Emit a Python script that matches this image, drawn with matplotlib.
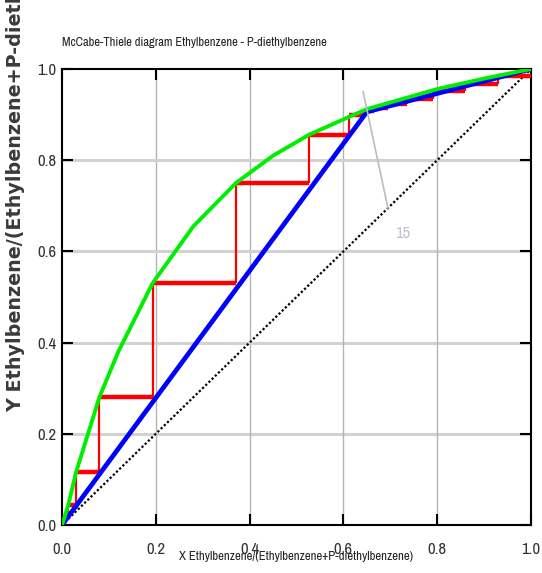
import matplotlib
matplotlib.use("Agg")
import matplotlib.pyplot as plt
from matplotlib import font_manager

# equilibrium curve (green)
eq_x = [0.0, 0.0134, 0.03, 0.0796, 0.12, 0.193, 0.28, 0.371, 0.45, 0.527, 0.612, 0.65, 0.80, 0.90, 1.0]
eq_y = [0.0, 0.044, 0.1155, 0.28, 0.38, 0.53, 0.655, 0.75, 0.81, 0.856, 0.895, 0.912, 0.956, 0.979, 1.0]

# operating lines (blue)
op_x = [0.0, 0.65, 1.0]
op_y = [0.0, 0.906, 1.0]

# stages: corner on the equilibrium curve
stage_x = [0.93, 0.86, 0.79, 0.735, 0.695, 0.665, 0.645, 0.612, 0.527, 0.371, 0.193, 0.0796, 0.03, 0.0134, 0.004]
stage_y = [0.984, 0.968, 0.951, 0.935, 0.923, 0.914, 0.908, 0.899, 0.856, 0.75, 0.53, 0.28, 0.1155, 0.044, 0.018]
n_stages = "15"

ticks = [0.0, 0.2, 0.4, 0.6, 0.8, 1.0]
tick_labels = ["0.0", "0.2", "0.4", "0.6", "0.8", "1.0"]

# a condensed face if one is around, else plain Arial-like
names = sorted({f.name for f in font_manager.fontManager.ttflist})
cond = [n for n in names if "Narrow" in n or "Condensed" in n]
if cond:
    narrow = [cond[0], "Liberation Sans", "DejaVu Sans"]
    sz_title, sz_xlab = 9.0, 9.2
else:
    narrow = ["Liberation Sans", "DejaVu Sans"]
    sz_title, sz_xlab = 7.6, 7.8

fig = plt.figure(figsize=(5.42, 5.73), dpi=100)
ax = fig.add_axes([62 / 542, 48 / 573, 469 / 542, 456 / 573])
ax.set_xlim(0, 1)
ax.set_ylim(0, 1)

# grid
for t in ticks[1:-1]:
    ax.axvline(t, color="#b4b4b4", lw=1.0, zorder=0)
    ax.axhline(t, color="#d2d2d2", lw=2.2, zorder=0)

# diagonal
ax.plot([0, 1], [0, 1], color="black", lw=1.6, ls=(0, (1, 1)), zorder=2)

# stage staircase
prev_x = 1.0
for i in range(len(stage_x)):
    ax.plot([prev_x, stage_x[i]], [stage_y[i], stage_y[i]], color="red", lw=3.2,
            solid_capstyle="butt", zorder=3)
    y_next = stage_y[i + 1] if i + 1 < len(stage_y) else 0.0
    ax.plot([stage_x[i], stage_x[i]], [stage_y[i], y_next], color="red", lw=1.6,
            solid_capstyle="butt", zorder=3)
    prev_x = stage_x[i]

ax.plot(op_x, op_y, color="#0000ff", lw=3.4, zorder=4)
ax.plot(eq_x, eq_y, color="#00ee00", lw=2.8, zorder=5)

# stage count marker
ax.plot([0.642, 0.695], [0.95, 0.695], color="#bdbdbd", lw=1.2, zorder=6)
ax.text(0.71, 0.64, n_stages, color="#c0bfd8", fontsize=12, family=narrow,
        ha="left", va="center", zorder=6)

ax.set_xticks(ticks)
ax.set_yticks(ticks)
ax.set_xticklabels(tick_labels, family=narrow, fontsize=12)
ax.set_yticklabels(tick_labels, family=narrow, fontsize=12)
ax.tick_params(direction="in", length=8, width=1.5, top=True, right=True,
               colors="black", labelcolor="#333333", pad=4)
ax.tick_params(axis="x", pad=12)
for s in ax.spines.values():
    s.set_linewidth(1.5)

fig.text(62 / 542, 1 - 42 / 573, "McCabe-Thiele diagram Ethylbenzene - P-diethylbenzene",
         family=narrow, fontsize=sz_title, color="#222222", ha="left", va="center")
fig.text(296 / 542, 1 - 556 / 573, "X Ethylbenzene/(Ethylbenzene+P-diethylbenzene)",
         family=narrow, fontsize=sz_xlab, color="#222222", ha="center", va="center")
fig.text(16 / 542, 1 - 412 / 573, "Y Ethylbenzene/(Ethylbenzene+P-diethylbenzene)",
         family="DejaVu Sans", fontweight="bold", fontsize=13.8, color="#3a3a3a",
         rotation=90, ha="center", va="bottom")

fig.savefig("out.png", dpi=100)
